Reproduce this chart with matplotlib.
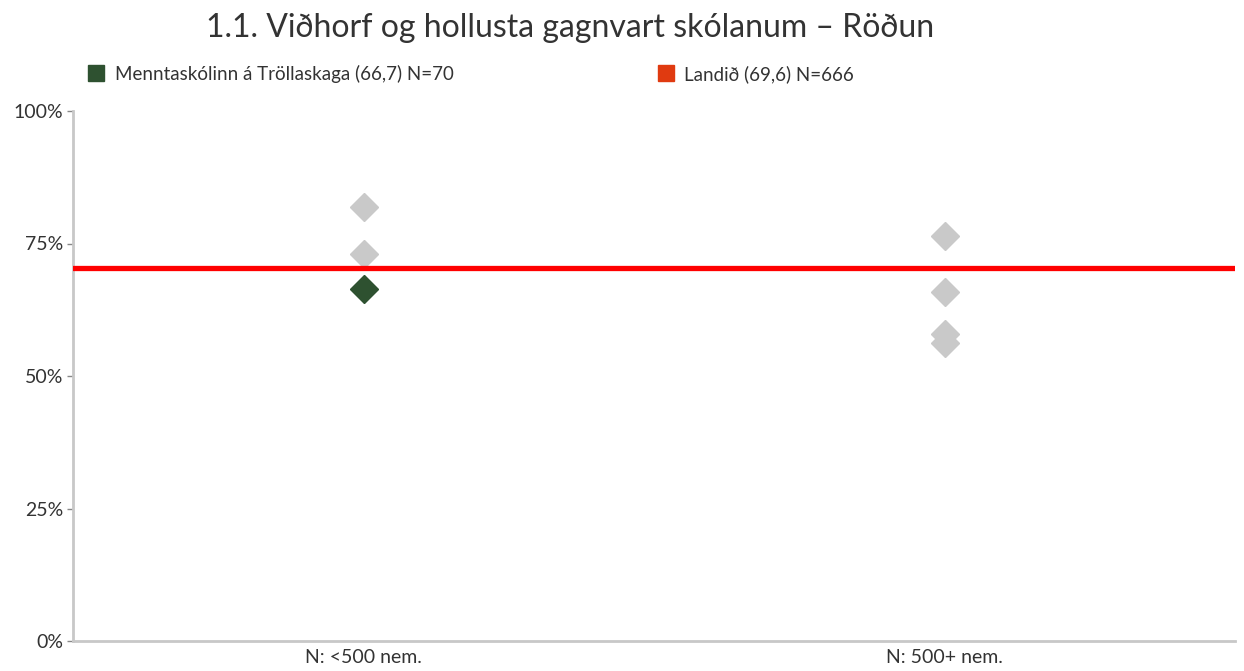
import numpy as np
import matplotlib.pyplot as plt
from matplotlib.lines import Line2D

plt.rcParams['font.family'] = ['Lato', 'DejaVu Sans']

categories = ['N: <500 nem.', 'N: 500+ nem.']
other_schools = [[81.9, 73.0], [76.4, 65.8, 57.9, 56.2]]
school_cat = 0
school_value = 66.4
national_value = 70.4

school_label = 'Menntaskólinn á Tröllaskaga (66,7) N=70'
national_label = 'Landið (69,6) N=666'
title = '1.1. Viðhorf og hollusta gagnvart skólanum – Röðun'

gray = '#C9C9C9'
green = '#2E5130'
red = '#FF0000'

fig = plt.figure(figsize=(12.44, 6.71), dpi=100)
ax = fig.add_axes([73 / 1244, 30 / 671, 1162 / 1244, 530 / 671])

for i, vals in enumerate(other_schools):
    ax.plot([i] * len(vals), vals, 'D', color=gray, markersize=14, zorder=2)
ax.plot([school_cat], [school_value], 'D', color=green, markersize=14, zorder=4)
ax.axhline(national_value, color=red, linewidth=3.8, zorder=3)

ax.set_xlim(-0.5, 1.5)
ax.set_ylim(0, 100)
ax.set_yticks([0, 25, 50, 75, 100])
ax.set_yticklabels(['0%', '25%', '50%', '75%', '100%'], fontsize=14, color='#333333')
ax.set_xticks([0, 1])
ax.set_xticklabels(categories, fontsize=14, color='#333333')
ax.tick_params(axis='x', length=0, pad=6)
ax.tick_params(axis='y', length=4, width=1, color='#888888', pad=3)

for s in ['top', 'right']:
    ax.spines[s].set_visible(False)
for s in ['left', 'bottom']:
    ax.spines[s].set_color('#C8C8C8')
    ax.spines[s].set_linewidth(2)

fig.text(570 / 1244, 1 - 28 / 671, title, ha='center', va='center', fontsize=23, color='#333333')

handles = [
    Line2D([], [], marker='s', linestyle='none', color=green, markersize=11),
    Line2D([], [], marker='s', linestyle='none', color='#E03A10', markersize=11),
]
fig.legend(handles, [school_label, national_label], loc='center left',
           bbox_to_anchor=(70 / 1244, 1 - 74 / 671), ncol=2, frameon=False,
           fontsize=13.5, handletextpad=0.5, columnspacing=10.8, handlelength=1.0,
           labelcolor='#333333')

fig.savefig('out.png', dpi=100)
